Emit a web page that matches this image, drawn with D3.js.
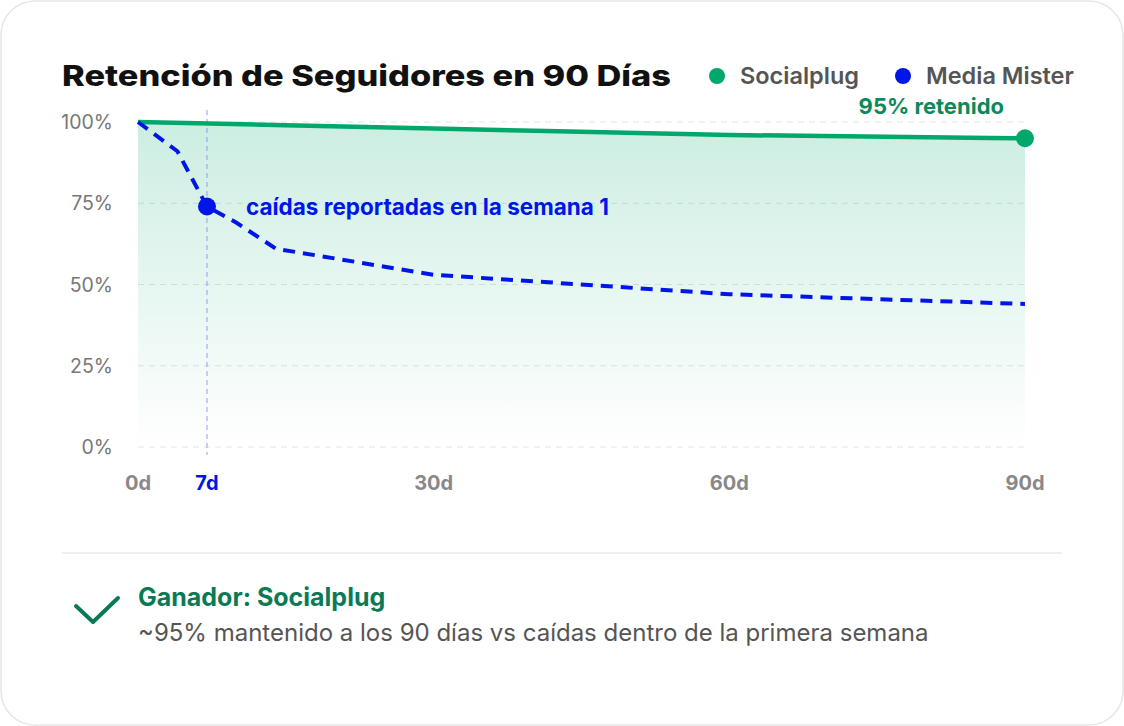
<!DOCTYPE html>
<html><head><meta charset="utf-8">
<script src="https://cdn.jsdelivr.net/npm/d3@7"></script>
<style>
body{margin:0;background:#fff;font-family:Inter,"Noto Sans",sans-serif;}
</style></head>
<body><svg id="c" width="1124" height="726"></svg>
<script>
const days = [0, 7, 30, 60, 90];
const dayLabels = ['0d', '7d', '30d', '60d', '90d'];
const yTicks = [0, 25, 50, 75, 100];
const socialDays = [0, 30, 60, 90];
const socialVals = [100, 98, 96, 95];
const mmDays = [0, 4, 7, 10, 14, 30, 60, 90];
const mmVals = [100, 91, 74, 69, 61, 53, 47, 44];

const svg = d3.select('#c');
const green = '#00a86b', blue = '#0016e8';

svg.append('rect').attr('x', 1).attr('y', 1).attr('width', 1122).attr('height', 724)
  .attr('rx', 34).attr('fill', '#fff').attr('stroke', '#e6e6e6').attr('stroke-width', 1.5);

const x = d3.scaleLinear().domain([0, 90]).range([138, 1025]);
const y = d3.scaleLinear().domain([0, 100]).range([447, 122]);

const defs = svg.append('defs');
const grad = defs.append('linearGradient').attr('id', 'g').attr('x1', 0).attr('x2', 0).attr('y1', 0).attr('y2', 1);
grad.append('stop').attr('offset', '0%').attr('stop-color', green).attr('stop-opacity', 0.2);
grad.append('stop').attr('offset', '100%').attr('stop-color', green).attr('stop-opacity', 0);

// title + legend
svg.append('text').attr('x', 62).attr('y', 86).attr('font-size', 29).attr('font-weight', 800)
  .attr('textLength', 609).attr('lengthAdjust', 'spacingAndGlyphs')
  .attr('fill', '#111').text('Retención de Seguidores en 90 Días');
const legend = [['Socialplug', green, 717], ['Media Mister', blue, 903]];
legend.forEach(([t, c, lx]) => {
  svg.append('circle').attr('cx', lx).attr('cy', 76).attr('r', 8).attr('fill', c);
  svg.append('text').attr('x', lx + 23).attr('y', 84).attr('font-size', 23.5).attr('font-weight', 600)
    .attr('fill', '#555').text(t);
});

// grid
svg.append('g').selectAll('line').data(yTicks).join('line')
  .attr('x1', x(0)).attr('x2', x(90)).attr('y1', d => y(d)).attr('y2', d => y(d))
  .attr('stroke', '#e4e4e4').attr('stroke-dasharray', '6,5');
svg.append('g').selectAll('text').data(yTicks).join('text')
  .attr('x', 113).attr('y', d => y(d) + 7).attr('text-anchor', 'end').attr('font-size', 19.5)
  .attr('fill', '#777').text(d => d + '%');
svg.append('g').selectAll('text').data(days).join('text')
  .attr('x', d => x(d)).attr('y', 490).attr('text-anchor', 'middle').attr('font-size', 20)
  .attr('font-weight', 700).attr('fill', d => d === 7 ? blue : '#888').text((d, i) => dayLabels[i]);

// area
svg.append('path').datum(socialDays.map((d, i) => [d, socialVals[i]]))
  .attr('d', d3.area().x(d => x(d[0])).y0(y(0)).y1(d => y(d[1])).curve(d3.curveMonotoneX))
  .attr('fill', 'url(#g)');

svg.append('line').attr('x1', x(7)).attr('x2', x(7)).attr('y1', 110).attr('y2', 455)
  .attr('stroke', '#8a93f0').attr('stroke-opacity', 0.6).attr('stroke-dasharray', '5,4').attr('stroke-width', 1.5);

svg.append('path').datum(socialDays.map((d, i) => [d, socialVals[i]]))
  .attr('d', d3.line().x(d => x(d[0])).y(d => y(d[1])).curve(d3.curveMonotoneX))
  .attr('fill', 'none').attr('stroke', green).attr('stroke-width', 4.5);
svg.append('path').datum(mmDays.map((d, i) => [d, mmVals[i]]))
  .attr('d', d3.line().x(d => x(d[0])).y(d => y(d[1])))
  .attr('fill', 'none').attr('stroke', blue).attr('stroke-width', 4).attr('stroke-dasharray', '12,8');

svg.append('circle').attr('cx', x(90)).attr('cy', y(socialVals[3])).attr('r', 9).attr('fill', green);
svg.append('circle').attr('cx', x(7)).attr('cy', y(mmVals[2])).attr('r', 9).attr('fill', blue);
svg.append('text').attr('x', 1004).attr('y', 114).attr('text-anchor', 'end').attr('font-size', 22)
  .attr('font-weight', 700).attr('fill', '#0a8a5a').text('95% retenido');
svg.append('text').attr('x', 246).attr('y', 215).attr('font-size', 22.5)
  .attr('font-weight', 700).attr('fill', blue).text('caídas reportadas en la semana 1');

// footer
svg.append('line').attr('x1', 62).attr('x2', 1062).attr('y1', 553).attr('y2', 553).attr('stroke', '#e8e8e8').attr('stroke-width', 1.5);
svg.append('path').attr('d', 'M76,606 L93,622 L118,598').attr('fill', 'none').attr('stroke', '#0a7a55')
  .attr('stroke-width', 4).attr('stroke-linecap', 'round').attr('stroke-linejoin', 'round');
svg.append('text').attr('x', 138).attr('y', 606).attr('font-size', 25).attr('font-weight', 700)
  .attr('fill', '#0a7a55').text('Ganador: Socialplug');
svg.append('text').attr('x', 138).attr('y', 641).attr('font-size', 24)
  .attr('fill', '#555').text('~95% mantenido a los 90 días vs caídas dentro de la primera semana');
</script></body></html>
